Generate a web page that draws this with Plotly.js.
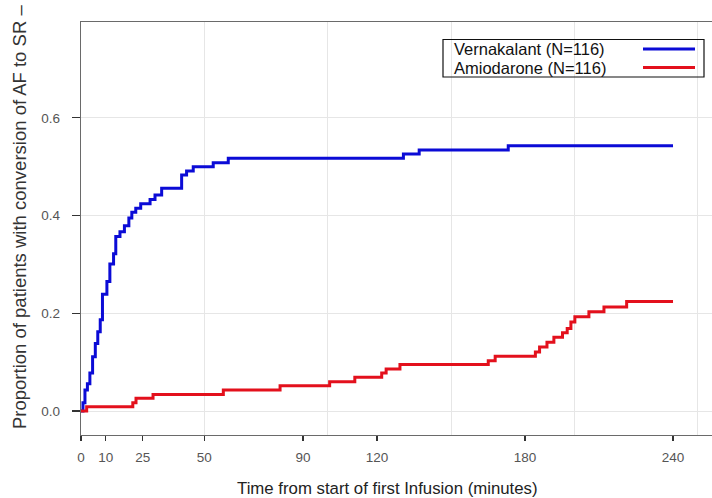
<!DOCTYPE html>
<html>
<head>
<meta charset="utf-8">
<script src="https://cdn.plot.ly/plotly-3.0.1.min.js"></script>
<style>
html,body{margin:0;padding:0;background:#fff;}
#chart{width:712px;height:498px;}
</style>
</head>
<body>
<div id="chart"></div>
<script>
// Vernakalant (N=116): time (min) and cumulative proportion converted
const vernTime = [0, 0.8, 1.6, 2.6, 3.6, 4.7, 5.8, 6.8, 7.8, 8.7, 10.5, 11.7, 13.2, 14.1, 15.8, 17.6, 19.4, 20.6, 22.2, 24.2, 28.0, 30.0, 32.7, 40.8, 42.8, 45.5, 53.6, 59.7, 130.7, 137.1, 173.2, 240];
const vernProp = [0, 0.017, 0.043, 0.056, 0.078, 0.111, 0.138, 0.162, 0.187, 0.239, 0.265, 0.301, 0.322, 0.357, 0.367, 0.379, 0.395, 0.407, 0.415, 0.424, 0.433, 0.442, 0.456, 0.483, 0.491, 0.500, 0.508, 0.517, 0.526, 0.534, 0.543, 0.543];

// Amiodarone (N=116)
const amioTime = [0, 2.3, 21.0, 22.3, 29.2, 57.7, 80.7, 100.8, 111.0, 121.9, 123.7, 129.3, 165.1, 167.9, 184.2, 185.9, 188.9, 191.7, 195.2, 197.1, 198.6, 200.2, 205.9, 212.0, 221.2, 240];
const amioProp = [0, 0.009, 0.017, 0.026, 0.034, 0.043, 0.052, 0.060, 0.069, 0.078, 0.086, 0.095, 0.103, 0.112, 0.121, 0.131, 0.141, 0.151, 0.160, 0.169, 0.182, 0.193, 0.203, 0.213, 0.224, 0.224];

const seriesNames = ["Vernakalant (N=116)", "Amiodarone (N=116)"];
const seriesColors = ["#0b0bd6", "#e3101c"];

const xTickVals = [0, 10, 25, 50, 90, 120, 180, 240];
const xGridVals = [50, 100, 150, 200, 250];
const yTickVals = [0, 0.2, 0.4, 0.6];

const FONT = "Liberation Sans, Arial, Helvetica, sans-serif";

const traces = [
  {x: vernTime, y: vernProp, type: "scatter", mode: "lines", line: {shape: "hv", color: seriesColors[0], width: 3}, name: seriesNames[0], showlegend: false, hoverinfo: "skip"},
  {x: amioTime, y: amioProp, type: "scatter", mode: "lines", line: {shape: "hv", color: seriesColors[1], width: 3}, name: seriesNames[1], showlegend: false, hoverinfo: "skip"},
  {x: [], y: [], xaxis: "x2", type: "scatter", mode: "lines", showlegend: false, hoverinfo: "skip"}
];

// plot area in pixels: x 81..712, y 22..435
const L = 81, R = 712, T = 22, B = 435;
const W = R - L, H = B - T;
const px = v => (v - L) / W;
const py = v => (B - v) / H;

const xRange = [0, 255.8];
const yRange = [-0.049, 0.796];

const layout = {
  width: 712, height: 498,
  margin: {l: L, r: 0, t: T, b: 498 - B, pad: 0},
  paper_bgcolor: "#ffffff", plot_bgcolor: "#ffffff",
  font: {family: FONT, color: "#444"},
  showlegend: false,
  xaxis: {
    range: xRange, tickmode: "array", tickvals: xTickVals, ticktext: xTickVals.map(String),
    showgrid: false, zeroline: false, showline: true, mirror: true, linecolor: "#6a6a6a", linewidth: 1.2,
    ticks: "outside", ticklen: 5, tickwidth: 1.2, tickcolor: "#333",
    tickfont: {family: FONT, size: 13.5, color: "#555"}, ticklabelstandoff: 5
  },
  xaxis2: {
    overlaying: "x", range: xRange, tickmode: "array", tickvals: xGridVals,
    showgrid: true, gridcolor: "#e6e6e6", gridwidth: 1, showticklabels: false, ticks: "",
    zeroline: false, showline: false
  },
  yaxis: {
    range: yRange, tickmode: "array", tickvals: yTickVals, tickformat: ".1f",
    showgrid: true, gridcolor: "#e6e6e6", gridwidth: 1, zeroline: false,
    showline: true, mirror: false, linecolor: "#6a6a6a", linewidth: 1.2,
    ticks: "outside", ticklen: 8, tickwidth: 1.2, tickcolor: "#333",
    tickfont: {family: FONT, size: 13.5, color: "#555"}, ticklabelstandoff: 9
  },
  shapes: [
    {type: "rect", xref: "paper", yref: "paper", x0: px(443), x1: px(704), y0: py(77), y1: py(39.5), line: {color: "#111", width: 1.2}, fillcolor: "rgba(255,255,255,0)"},
    {type: "line", xref: "paper", yref: "paper", x0: px(643), x1: px(695), y0: py(49), y1: py(49), line: {color: seriesColors[0], width: 3}},
    {type: "line", xref: "paper", yref: "paper", x0: px(643), x1: px(695), y0: py(67.5), y1: py(67.5), line: {color: seriesColors[1], width: 3}}
  ],
  annotations: [
    {xref: "paper", yref: "paper", x: px(452), y: py(49), xanchor: "left", yanchor: "middle", showarrow: false, text: seriesNames[0], font: {family: FONT, size: 16.5, color: "#111"}},
    {xref: "paper", yref: "paper", x: px(452), y: py(67.5), xanchor: "left", yanchor: "middle", showarrow: false, text: seriesNames[1], font: {family: FONT, size: 16.5, color: "#111"}},
    {xref: "paper", yref: "paper", x: px(19), y: py(431), xanchor: "center", yanchor: "bottom", textangle: -90, showarrow: false, text: "Proportion of patients with conversion of AF to SR –", font: {family: FONT, size: 18.5, color: "#333"}},
    {xref: "paper", yref: "paper", x: px(387), y: py(488), xanchor: "center", yanchor: "middle", showarrow: false, text: "Time from start of first Infusion (minutes)", font: {family: FONT, size: 16.8, color: "#222"}}
  ]
};

Plotly.newPlot("chart", traces, layout, {staticPlot: true, displayModeBar: false});
</script>
</body>
</html>
